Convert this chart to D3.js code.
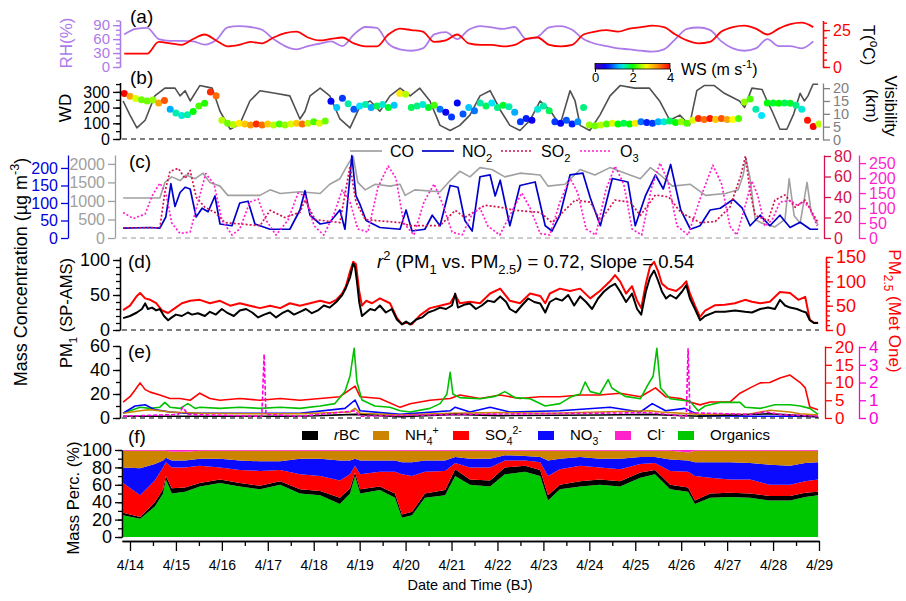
<!DOCTYPE html>
<html>
<head>
<meta charset="utf-8">
<script src="https://cdn.jsdelivr.net/npm/d3@7"></script>
<style>
  body { margin: 0; background: #fff; }
  svg text { font-family: "Liberation Sans", Arial, sans-serif; }
</style>
</head>
<body>
<svg id="chart" width="906" height="601"></svg>
<script>
// ---------------- data ----------------
// (a) 6-hourly RH (%) and T (degC), first point 4/13 21:00
const metTimes = d3.range(61).map(i => 13.875 + 0.25 * i);
const rh = [70, 82,84,60,56, 56,55,48,58, 85,88,86,80, 60,45,38,45, 50,55,45,70, 86,84,50,38,
  35,40,70,75, 60,80,88,85, 82,86,60,65, 85,88,80,60, 50,45,40,38, 35,33,38,60, 82,85,80,55,
  40,35,40,60, 45,45,40,55];
const temp = [9, 9,9,17,16, 15,19,22,18, 14,15,17,16, 20,23,24,20, 18,19,20,16, 14,14,22,26,
  25,24,17,18, 22,16,15,15, 14,15,19,20, 15,14,15,22, 24,25,24,26, 27,28,27,22, 18,16,17,24,
  27,28,26,22, 26,29,30,27];

// (b) 3-hourly wind direction (deg) and wind speed (m/s), first point 4/13 21:00
const windTimes = d3.range(122).map(i => 13.875 + 0.125 * i);
const wd = [290,272,258,250,242,248,230,245,190,165, 150,155,175,210,228,300,275,120,100,92,
  100,95,90,95,90,95,90,95,90,95, 100,95,100,110,100,115,240,200,260,225,
  190,210,220,200,210,220,200,215,290,285, 200,210,220,200,215,190,170,140,230,160,
  200,180,230,210,230,200,215,205,170,110, 130,120,190,210,180,110,100,120,95,110,
  200,90,85,90,95,100,95,100,95,100, 110,105,100,110,110,115,105,110,100,120,
  130,125,130,125,130,125,125,130,235,255, 190,150,230,230,228,230,228,215,190,120, 80,95];
const ws = [4,3.2,2.6,2.3,2.3,2.4,3.2,3.6,1.2,1.6, 1.5,1.6,2.0,2.2,2.1,3.8,3.5,2.5,2.3,2.5,
  2.8,3.0,3.3,3.8,3.5,3.0,2.5,2.2,2.4,2.6, 3.0,3.5,2.5,2.2,2.6,2.3,0.6,1.3,0.8,1.6,
  0.9,1.4,1.6,1.2,1.8,1.5,1.9,1.3,2.8,2.5, 1.8,1.7,1.5,1.9,2.2,1.0,0.5,0.8,0.6,0.9,
  1.3,1.0,1.6,1.8,1.4,1.7,1.9,1.6,1.2,0.8, 0.7,0.5,1.5,1.6,1.8,0.8,0.6,0.9,0.7,1.1,
  1.7,2.4,2.3,2.5,2.2,2.6,2.0,1.8,2.0,2.8, 1.0,0.7,0.8,1.2,1.5,1.8,2.0,2.4,2.2,2.6,
  3.8,3.5,3.9,3.0,3.6,3.2,2.7,2.2,2.4,2.2, 1.6,1.4,2.0,1.9,2.0,1.8,1.9,1.7,1.5,3.9, 4.0,2.5];
// visibility (km) as [day of April, value]
const visibility = [[13.85,15],[14.00,9.5],[14.15,4.5],[14.33,7.5],[14.54,17],[14.76,20],[14.98,20],
  [15.09,17],[15.20,19],[15.31,15],[15.52,21],[15.79,20],[15.96,11],[16.18,4],[16.39,6],[16.61,15],
  [16.83,19],[17.16,18],[17.48,17],[17.70,8],[17.81,11],[17.92,17],[18.14,20],[18.35,17],[18.57,8],
  [18.79,4.5],[19.01,13],[19.23,15],[19.44,11],[19.66,17],[19.88,20],[20.10,17],[20.31,20],[20.53,15],
  [20.75,5.5],[20.97,3.5],[21.18,5.5],[21.40,9.5],[21.62,17],[21.84,19],[22.06,11.5],[22.27,5.5],
  [22.49,3.5],[22.71,7.5],[22.93,15],[23.14,11.5],[23.36,5.5],[23.58,19],[23.69,15],[23.80,5.5],
  [24.01,3.5],[24.23,9.5],[24.45,17],[24.67,21],[24.99,20],[25.31,20],[25.53,15],[25.75,7.5],
  [25.97,9.5],[26.18,5.5],[26.34,19],[26.50,21],[26.72,21],[26.94,18],[27.27,15],[27.38,12.5],
  [27.54,20],[27.76,19.5],[27.87,15],[27.98,11],[28.15,4],[28.30,4],[28.45,10],[28.59,18],
  [28.68,15],[28.76,17],[28.87,21.5],[28.98,21.5]];

// (c) gases as [day of April, value]
const co = [[13.85,1080],[14.65,1080],[14.76,1500],[14.91,1650],[15.09,1550],[15.22,1700],[15.42,1600],
  [15.59,1750],[15.74,1500],[15.96,1400],[16.13,1150],[16.83,1150],[17.05,1300],[17.27,1200],[17.70,1250],
  [18.14,1200],[18.35,1450],[18.57,1600],[18.75,2000],[18.86,2200],[18.96,1500],[19.12,1300],[19.34,1450],
  [19.66,1400],[19.88,1450],[19.99,1150],[20.20,1300],[20.75,1250],[20.97,1550],[21.18,1800],[21.40,1650],
  [21.62,1900],[21.88,1850],[22.16,1650],[22.49,1750],[22.93,1700],[23.10,1400],[23.47,1450],[23.80,1850],
  [24.12,1700],[24.45,1900],[24.78,1750],[25.11,1600],[25.33,1900],[25.55,1700],[25.81,1400],[26.20,1450],
  [26.53,1150],[26.96,1200],[27.24,1300],[27.35,1700],[27.41,2150],[27.50,1600],[27.61,500],[27.76,400],
  [28.04,300],[28.26,500],[28.35,1600],[28.46,600],[28.59,400],[28.74,1500],[28.83,700],[28.98,350]];
const no2 = [[13.85,28],[14.44,30],[14.65,28],[14.78,60],[14.89,155],[14.98,90],[15.09,130],[15.20,145],
  [15.31,140],[15.44,60],[15.57,85],[15.70,75],[15.85,120],[15.96,40],[16.22,35],[16.39,100],[16.57,105],
  [16.72,40],[17.05,25],[17.48,25],[17.70,80],[17.81,135],[17.92,65],[18.14,40],[18.35,45],[18.57,80],
  [18.68,25],[18.77,150],[18.83,235],[18.92,120],[19.01,95],[19.14,50],[19.44,30],[19.88,25],[20.01,80],
  [20.14,20],[20.42,25],[20.58,65],[20.75,35],[20.97,150],[21.14,145],[21.29,50],[21.45,20],[21.62,175],
  [21.84,180],[21.95,120],[22.06,165],[22.27,35],[22.49,150],[22.82,160],[23.04,35],[23.19,20],[23.36,65],
  [23.58,180],[23.86,185],[24.02,115],[24.24,35],[24.50,170],[24.84,160],[25.00,35],[25.22,120],[25.44,180],
  [25.61,140],[25.77,210],[25.99,80],[26.20,25],[26.41,35],[26.63,80],[26.85,85],[27.13,110],[27.33,85],
  [27.50,35],[27.72,65],[27.93,35],[28.15,65],[28.37,30],[28.59,45],[28.81,25],[28.98,25]];
const so2 = [[13.85,10],[14.65,10],[14.76,45],[14.87,65],[15.05,68],[15.20,58],[15.31,66],[15.44,40],
  [15.63,30],[15.85,25],[16.07,15],[16.83,12],[17.05,27],[17.37,20],[17.70,25],[17.81,37],[18.03,18],
  [18.57,15],[18.79,70],[18.92,35],[19.12,18],[19.88,15],[20.10,12],[20.75,12],[21.08,27],[21.29,20],
  [21.73,32],[22.06,30],[22.38,27],[22.93,25],[23.19,15],[23.69,37],[24.02,35],[24.24,17],[24.56,37],
  [24.89,35],[25.11,22],[25.44,42],[25.73,40],[25.99,25],[26.41,15],[26.74,16],[27.06,30],[27.29,60],
  [27.40,80],[27.50,45],[27.61,22],[27.89,17],[28.04,37],[28.26,42],[28.48,30],[28.70,37],[28.85,25],[28.98,15]];
const o3 = [[13.85,85],[14.07,65],[14.33,80],[14.48,140],[14.65,183],[14.78,150],[14.91,50],[15.09,15],
  [15.31,20],[15.48,120],[15.65,215],[15.83,180],[16.00,60],[16.22,10],[16.39,30],[16.61,120],[16.79,130],
  [16.96,60],[17.18,10],[17.44,60],[17.66,150],[17.81,140],[18.01,40],[18.22,10],[18.44,80],[18.62,160],
  [18.79,120],[18.96,30],[19.18,20],[19.40,170],[19.62,240],[19.79,200],[19.96,50],[20.18,10],[20.40,120],
  [20.62,180],[20.79,120],[21.01,20],[21.23,10],[21.45,80],[21.62,100],[21.79,40],[22.05,10],[22.32,90],
  [22.53,150],[22.71,100],[22.93,15],[23.14,10],[23.36,120],[23.58,200],[23.75,150],[23.93,30],[24.14,10],
  [24.36,160],[24.56,240],[24.75,180],[24.93,30],[25.14,10],[25.36,170],[25.54,250],[25.71,190],[25.91,40],
  [26.15,10],[26.41,130],[26.69,243],[26.88,180],[27.06,40],[27.21,10],[27.38,100],[27.54,190],[27.67,140],
  [27.82,40],[27.98,60],[28.15,120],[28.37,125],[28.52,110],[28.67,120],[28.80,100],[28.96,40]];

// (d) PM1 (SP-AMS) and PM2.5 (Met One), ug/m3
const pm1 = [[13.85,17],[14.00,20],[14.15,25],[14.26,30],[14.33,38],[14.39,30],[14.48,32],[14.57,28],
  [14.65,30],[14.74,20],[14.83,14],[14.91,18],[15.00,22],[15.13,20],[15.26,25],[15.35,22],[15.48,24],
  [15.63,20],[15.74,26],[15.87,22],[16.00,30],[16.13,24],[16.26,20],[16.39,28],[16.53,30],[16.66,25],
  [16.79,18],[16.92,22],[17.05,25],[17.18,18],[17.31,24],[17.44,28],[17.57,22],[17.70,26],[17.83,30],
  [17.96,24],[18.09,28],[18.22,35],[18.35,32],[18.49,40],[18.62,50],[18.70,60],[18.79,75],[18.86,95],
  [18.90,90],[18.94,70],[18.99,40],[19.05,20],[19.14,25],[19.23,30],[19.33,28],[19.44,35],[19.57,25],
  [19.70,30],[19.81,15],[19.92,8],[20.01,12],[20.10,8],[20.23,15],[20.36,18],[20.49,25],[20.62,28],
  [20.75,32],[20.88,30],[21.01,35],[21.08,52],[21.14,32],[21.27,36],[21.40,38],[21.53,30],[21.66,35],
  [21.79,42],[21.93,40],[22.06,48],[22.19,40],[22.27,30],[22.40,25],[22.53,35],[22.67,45],[22.80,40],
  [22.93,38],[23.04,25],[23.14,40],[23.27,45],[23.41,42],[23.54,50],[23.67,35],[23.80,48],[23.93,40],
  [24.06,30],[24.19,45],[24.32,55],[24.45,62],[24.56,66],[24.67,55],[24.80,40],[24.93,52],[25.04,30],
  [25.13,22],[25.23,55],[25.32,75],[25.41,85],[25.50,70],[25.58,55],[25.67,45],[25.76,50],[25.89,45],
  [26.02,55],[26.11,64],[26.19,45],[26.30,30],[26.41,14],[26.52,20],[26.74,26],[26.95,26],[27.17,28],
  [27.39,26],[27.54,25],[27.72,30],[27.89,32],[28.04,30],[28.15,43],[28.26,35],[28.37,32],[28.52,30],
  [28.63,27],[28.72,25],[28.80,14],[28.89,10],[28.98,10]];
const pm25 = [[13.85,41],[14.00,50],[14.15,70],[14.22,76],[14.33,65],[14.44,62],[14.57,55],[14.70,40],
  [14.83,35],[14.98,45],[15.13,55],[15.31,60],[15.52,62],[15.74,55],[15.96,60],[16.18,50],[16.39,55],
  [16.61,50],[16.83,45],[17.05,50],[17.27,45],[17.48,55],[17.70,50],[17.92,55],[18.14,60],[18.35,55],
  [18.49,62],[18.62,75],[18.70,90],[18.79,120],[18.86,140],[18.92,135],[18.99,80],[19.05,50],[19.14,60],
  [19.27,55],[19.44,65],[19.66,55],[19.81,25],[19.92,12],[20.01,15],[20.14,12],[20.31,30],[20.53,45],
  [20.75,50],[20.97,55],[21.08,72],[21.18,55],[21.40,58],[21.62,55],[21.84,75],[22.06,85],[22.27,60],
  [22.49,55],[22.71,75],[22.93,70],[23.04,55],[23.14,75],[23.36,85],[23.58,80],[23.80,85],[24.02,65],
  [24.23,80],[24.45,100],[24.56,113],[24.67,100],[24.80,75],[24.93,90],[25.04,60],[25.13,45],[25.23,95],
  [25.32,130],[25.41,140],[25.50,120],[25.58,95],[25.71,85],[25.89,80],[26.02,90],[26.11,100],[26.19,75],
  [26.30,50],[26.41,27],[26.52,40],[26.74,51],[26.95,52],[27.17,55],[27.39,62],[27.54,58],[27.72,55],
  [27.93,58],[28.15,78],[28.37,76],[28.55,62],[28.70,68],[28.80,21],[28.89,15],[28.98,15]];

// (e) PM1 species, ug/m3 (SO4 on right red axis, Cl on right magenta axis)
const eSO4 = [[13.85,4.5],[14.00,6],[14.11,7.9],[14.22,9.9],[14.33,8],[14.44,7.3],[14.65,6.5],[14.87,5.5],
  [15.09,5.5],[15.31,5],[15.52,7],[15.74,5.5],[15.96,5],[16.39,5.5],[16.83,5],[17.27,5.5],[17.70,5],
  [18.14,5.5],[18.57,6],[18.79,8],[18.90,9],[19.01,6],[19.44,5.5],[19.88,3],[20.10,4],[20.53,5],[20.97,5.5],
  [21.18,6.5],[21.62,5.5],[22.06,6.5],[22.49,5.5],[22.93,6],[23.36,6],[23.80,6.5],[24.23,6.5],[24.67,7],
  [25.11,6],[25.44,8.5],[25.66,6],[25.99,5.5],[26.19,4.5],[26.41,3.7],[26.63,4.5],[27.06,4.5],[27.28,7],
  [27.50,8.5],[27.72,9.9],[27.93,10],[28.15,11.3],[28.37,12.1],[28.59,10],[28.70,8.5],[28.80,3.1],[28.98,2.3]];
const eOrg = [[13.85,4],[14.00,6],[14.22,9],[14.44,8],[14.65,9],[14.76,13],[14.87,9],[15.09,8],[15.26,12],
  [15.42,8],[15.52,9],[15.96,8],[16.39,9],[16.83,8],[17.27,9],[17.70,8],[18.14,10],[18.46,12],[18.68,22],
  [18.79,35],[18.88,58],[18.94,30],[19.05,15],[19.33,10],[19.66,9],[19.88,6],[20.10,5],[20.53,8],[20.75,12],
  [20.90,20],[20.97,38],[21.03,20],[21.18,17],[21.62,16],[21.95,18],[22.16,22],[22.38,17],[22.71,16],
  [23.04,10],[23.36,12],[23.62,18],[23.80,20],[23.91,30],[24.02,22],[24.23,20],[24.41,32],[24.49,25],
  [24.78,18],[25.11,16],[25.28,28],[25.39,35],[25.47,58],[25.55,25],[25.76,16],[26.19,14],[26.37,6],
  [26.52,10],[26.85,13],[27.28,13],[27.39,9],[27.72,8],[28.04,11],[28.37,11],[28.59,10],[28.80,8],[28.98,3]];
const eNO3 = [[13.85,4],[14.11,10],[14.33,11],[14.54,7],[14.87,5],[15.20,4],[16.61,4],[17.70,4],[18.68,8],
  [18.90,15],[19.01,6],[19.88,3],[20.97,6],[21.08,9],[21.40,5],[21.84,9],[22.27,5],[23.36,6],[24.45,9],
  [25.11,5],[25.37,12],[25.66,6],[26.08,8],[26.41,2],[27.50,1.5],[28.59,1.5],[28.98,1]];
const eNH4 = [[13.85,4],[14.22,6],[14.44,7],[14.87,5],[15.52,4],[16.61,3.5],[17.70,3.5],[18.79,5],[18.90,8],
  [19.01,4],[19.88,2.5],[20.97,4],[22.06,4.5],[23.14,4],[24.23,5],[25.32,6],[25.55,5],[26.41,3],[27.50,3.3],
  [27.93,6.5],[28.37,5],[28.59,3.5],[28.98,2.5]];
const eBC = [[13.85,1.5],[15.52,1.5],[17.70,1.5],[18.90,3],[19.88,1],[21.08,3],[22.06,2],[24.23,2.5],
  [25.32,3],[26.41,1.5],[27.93,3.5],[28.59,2],[28.98,1]];
const eCl = [[13.85,0.1],[15.05,0.2],[15.15,0.6],[15.26,0.2],[16.87,0.1],[16.92,3.6],[16.96,0.2],[17.70,0.1],
  [18.90,0.4],[19.01,0.1],[21.08,0.2],[25.32,0.3],[26.11,0.1],[26.15,3.9],[26.19,0.3],[27.50,0.2],
  [27.82,0.35],[28.15,0.2],[28.98,0.1]];

// (f) mass fractions (%)
const fTimes = [13.85,14.22,14.54,14.72,14.78,14.91,15.20,15.52,15.96,16.39,16.83,17.27,17.70,18.14,18.57,
  18.79,18.90,19.01,19.44,19.77,19.92,20.14,20.42,20.86,21.08,21.40,21.84,22.16,22.60,22.93,23.10,23.36,
  23.80,24.23,24.67,25.11,25.43,25.76,26.15,26.30,26.63,27.06,27.50,27.93,28.37,28.70,28.98];
const fOrg = [25,21,35,50,66,50,52,58,62,58,55,60,50,48,38,50,70,50,54,45,22,25,45,48,70,60,58,72,75,70,
  42,55,58,60,58,68,72,55,52,38,45,46,45,42,42,46,48];
const fBC = [3,2,5,5,4,6,5,4,4,4,4,4,5,5,7,6,4,5,4,5,4,4,5,6,8,6,7,8,7,7,6,5,6,6,6,6,5,5,5,4,5,5,5,5,5,5,4];
const fSO4 = [34,25,25,25,16,24,23,20,14,15,17,13,17,17,20,16,8,17,17,25,46,41,25,22,7,14,15,8,6,9,
  22,18,18,14,14,10,8,16,18,28,18,15,16,13,13,13,14];
const fNO3 = [18,31,19,8,5,8,8,8,10,11,11,10,18,20,23,16,8,16,13,13,14,16,13,12,7,10,10,6,5,6,
  18,12,10,10,12,8,7,13,13,16,18,20,19,23,22,21,20];
const fNH4 = [19,20,15,11,8,10,10,9,9,11,12,12,9,9,11,11,9,11,11,11,13,13,11,11,7,9,9,5,6,7,
  11,9,7,9,9,7,7,10,9,13,13,13,14,16,17,14,13];
const fCl = [1,1,1,1,1,2,2,1,1,1,1,1,1,1,1,1,1,1,1,1,1,1,1,1,1,1,1,1,1,1,1,1,1,1,1,1,1,1,3,1,1,1,1,1,1,1,1];

const dayTicks = d3.range(14, 30);

// ---------------- drawing ----------------
const svg = d3.select("#chart");
const FONT = "'Liberation Sans', Arial, sans-serif";

// time axis: day of April
const x = d3.scaleLinear().domain([13.826, 29]).range([122, 819]);

svg.append("clipPath").attr("id", "clip")
  .append("rect").attr("x", 121).attr("y", 0).attr("width", 700).attr("height", 601);
const plot = svg.append("g").attr("clip-path", "url(#clip)");

function line(data, yScale, color, width, dash, curve) {
  plot.append("path").datum(data)
    .attr("d", d3.line().x(d => x(d[0])).y(d => yScale(d[1])).curve(curve || d3.curveLinear))
    .attr("fill", "none").attr("stroke", color).attr("stroke-width", width)
    .attr("stroke-dasharray", dash || null).attr("stroke-linejoin", "round");
}

function yAxis(scale, xpos, side, color, major, minor, size) {
  const mk = side === "left" ? d3.axisLeft : d3.axisRight;
  const g = svg.append("g").attr("transform", `translate(${xpos},0)`);
  if (minor) {
    const m = g.append("g").call(mk(scale).tickValues(minor).tickSize(4).tickSizeOuter(0));
    m.selectAll("text").remove();
  }
  g.append("g").call(mk(scale).tickValues(major).tickSize(7).tickSizeOuter(0)
    .tickPadding(3).tickFormat(d3.format("d")));
  g.selectAll("path, line").attr("stroke", color).attr("stroke-width", 1.3);
  g.selectAll("text").attr("fill", color).attr("font-size", size).attr("font-family", FONT);
  return g;
}

function zeroLine(y, color) {
  svg.append("line").attr("x1", 122).attr("x2", 819).attr("y1", y).attr("y2", y)
    .attr("stroke", color).attr("stroke-width", 1.2).attr("stroke-dasharray", "5,4");
}

// rich text: parts = [[string, kind]] kind in "", "sub", "sup", "i"
function rich(t, parts, size) {
  let shift = 0;
  parts.forEach(([s, k]) => {
    const target = k === "sub" ? size * 0.3 : k === "sup" ? -size * 0.42 : 0;
    const ts = t.append("tspan").text(s).attr("dy", target - shift);
    if (k === "sub" || k === "sup") ts.attr("font-size", size * 0.7);
    if (k === "i") ts.attr("font-style", "italic");
    shift = target;
  });
  return t;
}

function label(str, xp, yp, rot, color, size, anchor) {
  const t = svg.append("text")
    .attr("transform", `translate(${xp},${yp}) rotate(${rot})`)
    .attr("text-anchor", anchor || "middle").attr("fill", color).attr("font-size", size);
  if (typeof str === "string") t.text(str); else rich(t, str, size);
  return t;
}

const range1 = (a, b, s) => d3.range(a, b + s / 2, s);

// ---- panel (a): RH and T ----
const yRH = d3.scaleLinear().domain([0, 100]).range([67, 20.5]);
const yT = d3.scaleLinear().domain([0, 31.5]).range([67, 20.5]);
const C_RH = "#ad7be9", C_T = "#ff0000";
line(metTimes.map((t, i) => [t, rh[i]]), yRH, C_RH, 1.8, null, d3.curveMonotoneX);
line(metTimes.map((t, i) => [t, temp[i]]), yT, C_T, 1.8, null, d3.curveMonotoneX);
yAxis(yRH, 120, "left", C_RH, [0, 30, 60, 90], range1(0, 100, 10), 15);
yAxis(yT, 823, "right", C_T, [0, 25], range1(0, 30, 5), 16);
label("RH(%)", 72, 43, -90, C_RH, 17);
label([["T(", ""], ["o", "sup"], ["C)", ""]], 863, 45, 90, "#000", 17);
label("(a)", 130, 23, 0, "#000", 19, "start");

// ---- panel (b): WD coloured by WS, visibility ----
const yWD = d3.scaleLinear().domain([0, 360]).range([139, 82.5]);
const yVis = d3.scaleLinear().domain([0, 22]).range([139.5, 83]);
const jet = d3.scaleLinear().domain([0, 0.6, 1.4, 2.0, 2.7, 3.4, 4])
  .range(["#4a00b0", "#0000ff", "#00e5ff", "#00ff00", "#ffff00", "#ff8000", "#ff0000"]).clamp(true);
zeroLine(139, "#000");
line(visibility, yVis, "#505050", 1.6);
plot.append("g").selectAll("circle")
  .data(windTimes.map((t, i) => ({ t, wd: wd[i], ws: ws[i] })).filter(d => d.wd != null))
  .join("circle")
  .attr("cx", d => x(d.t)).attr("cy", d => yWD(d.wd)).attr("r", 3.5)
  .attr("fill", d => jet(d.ws));
yAxis(yWD, 120, "left", "#000", [0, 100, 200, 300], range1(0, 350, 50), 16);
yAxis(yVis, 823, "right", "#808080", [0, 5, 10, 15, 20], null, 14.5);
label("WD", 71, 108, -90, "#000", 17);
label("Visibility", 885, 106, 90, "#000", 17);
label("(km)", 866, 106, 90, "#000", 17);
label("(b)", 130, 84, 0, "#000", 19, "start");

// colour bar for WS
const wsScale = d3.scaleLinear().domain([0, 4]).range([595, 670]);
const grad = svg.append("defs").append("linearGradient").attr("id", "jet");
d3.range(0, 4.01, 0.25).forEach(v => grad.append("stop")
  .attr("offset", (v / 4 * 100) + "%").attr("stop-color", jet(v)));
svg.append("rect").attr("x", 595).attr("y", 63.5).attr("width", 75).attr("height", 5.5)
  .attr("fill", "url(#jet)").attr("stroke", "#000").attr("stroke-width", 0.8);
const cb = svg.append("g").attr("transform", "translate(0,69)")
  .call(d3.axisBottom(wsScale).tickValues([0, 2, 4]).tickSize(3).tickSizeOuter(0)
    .tickPadding(1).tickFormat(d3.format("d")));
cb.select(".domain").remove();
cb.selectAll("text").attr("font-size", 13).attr("font-family", FONT).attr("fill", "#000");
label([["WS (m s", ""], ["-1", "sup"], [")", ""]], 681, 75, 0, "#000", 16, "start");

// ---- panel (c): gases ----
const yCO = d3.scaleLinear().domain([0, 2240]).range([238, 155]);
const yNO2 = d3.scaleLinear().domain([0, 237]).range([238, 155]);
const ySO2 = d3.scaleLinear().domain([0, 81]).range([238, 155]);
const yO3 = d3.scaleLinear().domain([0, 277]).range([238, 155]);
const C_CO = "#a0a0a0", C_NO2 = "#0000cc", C_SO2 = "#d1124d", C_O3 = "#ff1fd0";
zeroLine(238, "#999");
line(co, yCO, C_CO, 1.6);
line(no2, yNO2, C_NO2, 1.7);
line(so2, ySO2, C_SO2, 1.7, "2,2");
line(o3, yO3, C_O3, 1.7, "2,2");
yAxis(yNO2, 68, "left", "#0000dd", [0, 50, 100, 150, 200], null, 16);
yAxis(yCO, 115, "left", C_CO, [0, 500, 1000, 1500, 2000], null, 16);
yAxis(ySO2, 824, "right", C_SO2, [0, 20, 40, 60, 80], null, 16);
yAxis(yO3, 859, "right", C_O3, [0, 50, 100, 150, 200, 250], null, 16);
label("(c)", 129, 168, 0, "#000", 19, "start");
// legend
const legC = [
  { name: [["CO", ""]], color: C_CO, dash: null, x: 350 },
  { name: [["NO", ""], ["2", "sub"]], color: C_NO2, dash: null, x: 422 },
  { name: [["SO", ""], ["2", "sub"]], color: C_SO2, dash: "2,2", x: 501 },
  { name: [["O", ""], ["3", "sub"]], color: C_O3, dash: "2,2", x: 580 }
];
legC.forEach(d => {
  svg.append("line").attr("x1", d.x).attr("x2", d.x + 32).attr("y1", 151).attr("y2", 151)
    .attr("stroke", d.color).attr("stroke-width", 1.7).attr("stroke-dasharray", d.dash);
  label(d.name, d.x + 40, 157, 0, "#000", 16, "start");
});

// ---- panel (d): PM1 vs PM2.5 ----
const yPM1 = d3.scaleLinear().domain([0, 104.3]).range([330, 257]);
const yPM25 = d3.scaleLinear().domain([0, 150]).range([330, 257]);
zeroLine(330, "#000");
line(pm25, yPM25, "#ff0000", 2);
line(pm1, yPM1, "#000", 2);
yAxis(yPM1, 120, "left", "#000", [0, 50, 100], range1(0, 100, 10), 18);
yAxis(yPM25, 826, "right", "#ff0000", [0, 50, 100, 150], range1(0, 150, 10), 18);
label("(d)", 128, 268, 0, "#000", 19, "start");
label([["r", "i"], ["2", "sup"], [" (PM", ""], ["1", "sub"], [" vs. PM", ""], ["2.5", "sub"],
  [") = 0.72, Slope = 0.54", ""]], 377, 268, 0, "#000", 18.5, "start");

// ---- panel (e): species ----
const yE = d3.scaleLinear().domain([0, 60]).range([418, 346]);
const yERed = d3.scaleLinear().domain([0, 20.3]).range([418, 346]);
const yECl = d3.scaleLinear().domain([0, 4.06]).range([418, 346]);
const C_ORG = "#00c000", C_NH4 = "#cc8400", C_CL = "#ff00dd";
zeroLine(418, "#000");
line(eSO4, yERed, "#ff0000", 1.6);
line(eOrg, yE, C_ORG, 1.6);
line(eNO3, yE, "#0000ff", 1.6);
line(eNH4, yE, C_NH4, 1.6);
line(eBC, yE, "#000", 1.6);
line(eCl, yECl, C_CL, 1.6, "4,2");
yAxis(yE, 120, "left", "#000", [0, 20, 40, 60], range1(0, 60, 10), 18);
yAxis(yERed, 825, "right", "#ff0000", [0, 5, 10, 15, 20], null, 17);
yAxis(yECl, 859, "right", C_CL, [0, 1, 2, 3, 4], null, 17);
label("(e)", 128, 358, 0, "#000", 19, "start");

label([["Mass Concentration (\u00b5g m", ""], ["-3", "sup"], [")", ""]], 27, 272, -90, "#000", 18);
label([["PM", ""], ["1", "sub"], [" (SP-AMS)", ""]], 72, 313, -90, "#000", 16.5);
label([["PM", ""], ["2.5", "sub"], [" (Met One)", ""]], 889, 311, 90, "#ff0000", 17);

// ---- panel (f): stacked mass fractions ----
const yF = d3.scaleLinear().domain([0, 100]).range([537, 450]);
const keys = ["org", "bc", "so4", "no3", "nh4", "cl"];
const fColors = { org: "#00c800", bc: "#000", so4: "#ff0000", no3: "#0a0aff", nh4: "#cc8400", cl: "#ff22cc" };
const fRows = fTimes.map((t, i) => ({ t, org: fOrg[i], bc: fBC[i], so4: fSO4[i], no3: fNO3[i], nh4: fNH4[i], cl: fCl[i] }));
const stack = d3.stack().keys(keys)(fRows);
const area = d3.area().x(d => x(d.data.t)).y0(d => yF(d[0])).y1(d => yF(d[1]));
plot.append("g").selectAll("path").data(stack).join("path")
  .attr("d", area).attr("fill", d => fColors[d.key]);
yAxis(yF, 122, "left", "#000", [0, 20, 40, 60, 80, 100], range1(0, 100, 10), 18);
label("(f)", 128, 443, 0, "#000", 19, "start");
label("Mass Perc. (%)", 79, 498, -90, "#000", 16.5);

// legend (f)
const legF = [
  { key: "bc", x: 302, name: [["r", "i"], ["BC", ""]] },
  { key: "nh4", x: 373, name: [["NH", ""], ["4", "sub"], ["+", "sup"]] },
  { key: "so4", x: 453, name: [["SO", ""], ["4", "sub"], ["2-", "sup"]] },
  { key: "no3", x: 538, name: [["NO", ""], ["3", "sub"], ["-", "sup"]] },
  { key: "cl", x: 615, name: [["Cl", ""], ["-", "sup"]] },
  { key: "org", x: 678, name: [["Organics", ""]] }
];
legF.forEach(d => {
  svg.append("rect").attr("x", d.x).attr("y", 431).attr("width", 16).attr("height", 9)
    .attr("fill", fColors[d.key]);
  label(d.name, d.x + 32, 440, 0, "#000", 15, "start");
});

// ---- x axis ----
const xg = svg.append("g").attr("transform", "translate(0,541)");
const xm = xg.append("g").call(d3.axisBottom(x).tickValues(d3.range(14.5, 29, 1)).tickSize(5).tickSizeOuter(0));
xm.selectAll("text").remove();
xg.append("g").call(d3.axisBottom(x).tickValues(dayTicks).tickSize(10).tickSizeOuter(0)
  .tickPadding(9).tickFormat(d => "4/" + d));
xg.selectAll("path, line").attr("stroke", "#000").attr("stroke-width", 1.3);
xg.selectAll("text").attr("font-size", 14).attr("font-family", FONT).attr("fill", "#000");
label("Date and Time (BJ)", 470, 590, 0, "#000", 14.5);
</script>
</body>
</html>
